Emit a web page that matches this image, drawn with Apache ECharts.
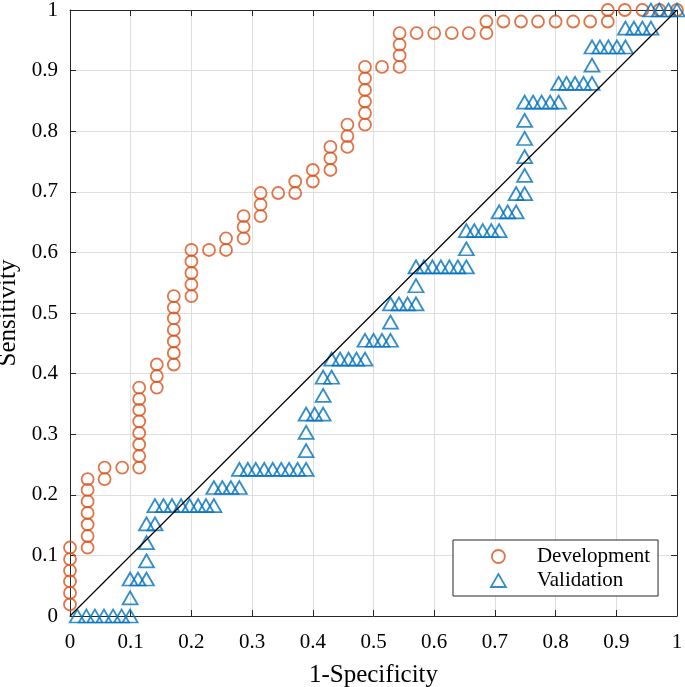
<!DOCTYPE html>
<html>
<head>
<meta charset="utf-8">
<script src="https://cdn.jsdelivr.net/npm/echarts@6/dist/echarts.min.js"></script>
<style>
  html, body {margin: 0; padding: 0; background: #fff;}
  #chart {width: 685px; height: 687px;}
</style>
</head>
<body>
<div id="chart"></div>
<script>
// ROC points, [1-specificity, sensitivity]
const development = [
  [0, 0.019], [0, 0.038], [0, 0.057], [0, 0.075], [0, 0.094], [0, 0.113],
  [0.029, 0.113], [0.029, 0.132], [0.029, 0.151], [0.029, 0.170], [0.029, 0.189], [0.029, 0.208], [0.029, 0.226],
  [0.057, 0.226], [0.057, 0.245],
  [0.086, 0.245],
  [0.114, 0.245], [0.114, 0.264], [0.114, 0.283], [0.114, 0.302], [0.114, 0.321], [0.114, 0.340], [0.114, 0.358], [0.114, 0.377],
  [0.143, 0.377], [0.143, 0.396], [0.143, 0.415],
  [0.171, 0.415], [0.171, 0.434], [0.171, 0.453], [0.171, 0.472], [0.171, 0.491], [0.171, 0.509], [0.171, 0.528],
  [0.2, 0.528], [0.2, 0.547], [0.2, 0.566], [0.2, 0.585], [0.2, 0.604],
  [0.229, 0.604],
  [0.257, 0.604], [0.257, 0.623],
  [0.286, 0.623], [0.286, 0.642], [0.286, 0.660],
  [0.314, 0.660], [0.314, 0.679], [0.314, 0.698],
  [0.343, 0.698],
  [0.371, 0.698], [0.371, 0.717],
  [0.4, 0.717], [0.4, 0.736],
  [0.429, 0.736], [0.429, 0.755], [0.429, 0.774],
  [0.457, 0.774], [0.457, 0.792], [0.457, 0.811],
  [0.486, 0.811], [0.486, 0.830], [0.486, 0.849], [0.486, 0.868], [0.486, 0.887], [0.486, 0.906],
  [0.514, 0.906],
  [0.543, 0.906], [0.543, 0.925], [0.543, 0.943], [0.543, 0.962],
  [0.571, 0.962], [0.6, 0.962], [0.629, 0.962], [0.657, 0.962],
  [0.686, 0.962], [0.686, 0.981],
  [0.714, 0.981], [0.743, 0.981], [0.771, 0.981], [0.8, 0.981], [0.829, 0.981], [0.857, 0.981],
  [0.886, 0.981], [0.886, 1],
  [0.914, 1], [0.943, 1], [0.971, 1], [1, 1]
];

const validation = [
  [0.012, 0], [0.027, 0], [0.041, 0], [0.056, 0], [0.071, 0], [0.085, 0], [0.099, 0],
  [0.099, 0.030],
  [0.099, 0.061], [0.112, 0.061], [0.126, 0.061],
  [0.126, 0.091], [0.126, 0.121],
  [0.126, 0.152], [0.140, 0.152],
  [0.140, 0.182], [0.154, 0.182], [0.168, 0.182], [0.183, 0.182], [0.197, 0.182], [0.211, 0.182], [0.224, 0.182], [0.237, 0.182],
  [0.237, 0.212], [0.251, 0.212], [0.265, 0.212], [0.279, 0.212],
  [0.279, 0.242], [0.293, 0.242], [0.306, 0.242], [0.320, 0.242], [0.334, 0.242], [0.348, 0.242], [0.361, 0.242], [0.375, 0.242], [0.389, 0.242],
  [0.389, 0.273], [0.389, 0.303],
  [0.389, 0.333], [0.403, 0.333], [0.417, 0.333],
  [0.417, 0.364],
  [0.417, 0.394], [0.431, 0.394],
  [0.431, 0.424], [0.445, 0.424], [0.459, 0.424], [0.472, 0.424], [0.486, 0.424],
  [0.486, 0.455], [0.500, 0.455], [0.514, 0.455], [0.528, 0.455],
  [0.528, 0.485],
  [0.528, 0.515], [0.542, 0.515], [0.556, 0.515], [0.570, 0.515],
  [0.570, 0.545],
  [0.570, 0.576], [0.583, 0.576], [0.597, 0.576], [0.611, 0.576], [0.625, 0.576], [0.639, 0.576], [0.653, 0.576],
  [0.653, 0.606],
  [0.653, 0.636], [0.666, 0.636], [0.680, 0.636], [0.694, 0.636], [0.707, 0.636],
  [0.707, 0.667], [0.721, 0.667], [0.735, 0.667],
  [0.735, 0.697], [0.749, 0.697],
  [0.749, 0.727], [0.749, 0.758], [0.749, 0.788], [0.749, 0.818],
  [0.749, 0.848], [0.763, 0.848], [0.777, 0.848], [0.791, 0.848], [0.805, 0.848],
  [0.805, 0.879], [0.818, 0.879], [0.832, 0.879], [0.846, 0.879], [0.860, 0.879],
  [0.860, 0.909],
  [0.860, 0.939], [0.873, 0.939], [0.887, 0.939], [0.901, 0.939], [0.915, 0.939],
  [0.915, 0.970], [0.929, 0.970], [0.943, 0.970], [0.957, 0.970],
  [0.957, 1], [0.971, 1], [0.986, 1], [1, 1]
];

const chance = [[0, 0], [1, 1]];

const orange = '#D95319';
const blue = '#0072BD';
const ink = '#262626';
const font = 'Liberation Serif';

const chart = echarts.init(document.getElementById('chart'));

const frameAxis = (position, extra) => ({
  type: 'value',
  position,
  min: 0,
  max: 1,
  interval: 0.1,
  axisLine: {show: true, onZero: false, lineStyle: {color: ink, width: 1}},
  axisTick: {show: true, inside: true, length: 6, lineStyle: {color: ink}},
  axisLabel: {show: false},
  splitLine: {show: false},
  ...extra
});

chart.setOption({
  backgroundColor: '#fff',
  animation: false,
  textStyle: {fontFamily: font},
  grid: {left: 70, right: 8, top: 10, bottom: 71, outerBoundsMode: 'none', containLabel: false},
  legend: {
    orient: 'vertical',
    left: 453,
    top: 540,
    padding: [6, 8, 5, 37],
    itemWidth: 15,
    itemHeight: 13,
    itemGap: 3,
    symbolKeepAspect: true,
    backgroundColor: '#fff',
    borderColor: ink,
    borderWidth: 1,
    borderRadius: 0,
    textStyle: {fontFamily: font, fontSize: 21, color: '#000', padding: [0, 0, 0, 26]},
    data: [
      {name: 'Development', icon: 'circle',
        itemStyle: {color: 'transparent', borderColor: orange, borderWidth: 1.8}},
      {name: 'Validation', icon: 'triangle',
        itemStyle: {color: 'transparent', borderColor: blue, borderWidth: 1.8}}
    ]
  },
  xAxis: [
    frameAxis('bottom', {
      name: '1-Specificity',
      nameLocation: 'middle',
      nameGap: 47,
      nameMoveOverlap: false,
      nameTextStyle: {fontFamily: font, fontSize: 25, color: '#000'},
      axisLabel: {show: true, margin: 16, fontFamily: font, fontSize: 21, color: '#000'},
      splitLine: {show: true, lineStyle: {color: '#dedede', width: 1}}
    }),
    frameAxis('top')
  ],
  yAxis: [
    frameAxis('left', {
      name: 'Sensitivity',
      nameLocation: 'middle',
      nameGap: 8,
      nameTextStyle: {fontFamily: font, fontSize: 25, color: '#000'},
      axisLabel: {show: true, margin: 12, fontFamily: font, fontSize: 21, color: '#000'},
      splitLine: {show: true, lineStyle: {color: '#dedede', width: 1}}
    }),
    frameAxis('right')
  ],
  series: [
    {
      name: 'Development',
      type: 'scatter',
      data: development,
      symbol: 'circle',
      symbolSize: 12,
      itemStyle: {color: 'transparent', borderColor: orange, borderWidth: 1.8},
      z: 3
    },
    {
      name: 'Validation',
      type: 'scatter',
      data: validation,
      symbol: 'triangle',
      symbolSize: [15, 13],
      itemStyle: {color: 'transparent', borderColor: blue, borderWidth: 1.8},
      z: 4
    },
    {
      name: 'chance',
      type: 'line',
      data: chance,
      symbol: 'none',
      silent: true,
      lineStyle: {color: '#000', width: 1.2},
      z: 5
    }
  ]
});
</script>
</body>
</html>
